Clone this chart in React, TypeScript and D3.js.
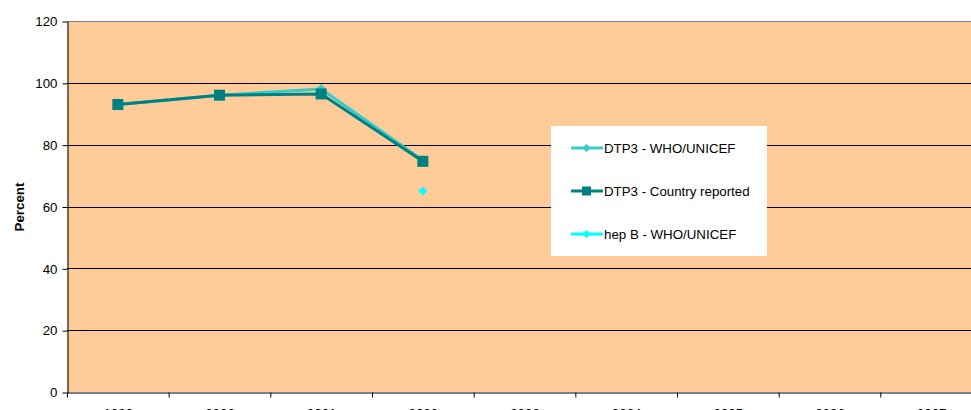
import React, { useRef, useEffect } from "react";
import * as d3 from "d3";

const years = ["1999", "2000", "2001", "2002", "2003", "2004", "2005", "2006", "2007"];
const dtp3Who = [93, 96, 98, 75, null, null, null, null, null];
const dtp3Country = [93, 96, 96.4, 74.6, null, null, null, null, null];
const hepBWho = [null, null, null, 65, null, null, null, null, null];
const yTicks = [0, 20, 40, 60, 80, 100, 120];

const seriesNames = ["DTP3 - WHO/UNICEF", "DTP3 - Country reported", "hep B - WHO/UNICEF"];

// square turned on its corner, like the spreadsheet marker
const diamondPath = (r: number) => `M0,${-r}L${r},0L0,${r}L${-r},0Z`;

const App = () => {
  const svgRef = useRef<SVGSVGElement>(null);

  useEffect(() => {
    const svg = d3.select(svgRef.current);
    svg.selectAll("*").remove();

    const width = 971;
    const height = 410;
    const left = 67;
    const top = 21;
    const bottom = 392;
    const right = 982; // the plot runs past the window edge

    const font = "Liberation Sans, Arial, sans-serif";
    const fs = 13.3;

    const x = d3.scaleBand().domain(years).range([left, right]);
    const y = d3.scaleLinear().domain([0, 120]).range([bottom, top]);

    svg.append("rect").attr("width", width).attr("height", height).attr("fill", "#fff");

    // plot area
    svg
      .append("rect")
      .attr("x", left)
      .attr("y", top)
      .attr("width", right - left)
      .attr("height", bottom - top)
      .attr("fill", "#FFCC99");

    // grid lines
    svg
      .append("g")
      .selectAll("line")
      .data(yTicks.filter((d) => d > 0 && d < 120))
      .enter()
      .append("line")
      .attr("x1", left)
      .attr("x2", right)
      .attr("y1", (d) => Math.round(y(d)) + 0.5)
      .attr("y2", (d) => Math.round(y(d)) + 0.5)
      .attr("stroke", "#000")
      .attr("stroke-width", 1);

    // top border
    svg
      .append("line")
      .attr("x1", left)
      .attr("x2", right)
      .attr("y1", top + 0.5)
      .attr("y2", top + 0.5)
      .attr("stroke", "#808080");

    // y axis
    const yAxis = svg
      .append("g")
      .attr("transform", `translate(${left + 0.5},0.5)`)
      .call(d3.axisLeft(y).tickValues(yTicks).tickSize(5).tickSizeOuter(0).tickPadding(5));
    yAxis.select(".domain").attr("stroke", "#000");
    yAxis.selectAll("line").attr("stroke", "#000");
    yAxis.selectAll("text").attr("font-family", font).attr("font-size", fs).attr("fill", "#000");

    // x axis
    const xAxis = svg
      .append("g")
      .attr("transform", `translate(0.5,${bottom + 0.5})`)
      .call(d3.axisBottom(x).tickSize(0).tickPadding(16));
    xAxis.select(".domain").attr("stroke", "#000");
    xAxis.selectAll("text").attr("font-family", font).attr("font-size", fs).attr("fill", "#000");
    // ticks between categories
    xAxis
      .selectAll("line.cat")
      .data(years.concat(["end"]))
      .enter()
      .append("line")
      .attr("class", "cat")
      .attr("x1", (_, i) => left + i * x.bandwidth())
      .attr("x2", (_, i) => left + i * x.bandwidth())
      .attr("y1", 0)
      .attr("y2", 5)
      .attr("stroke", "#000");

    // y axis title
    svg
      .append("text")
      .attr("transform", `translate(24,207) rotate(-90)`)
      .attr("text-anchor", "middle")
      .attr("font-family", font)
      .attr("font-size", fs)
      .attr("font-weight", "bold")
      .text("Percent");

    const cx = (i: number) => (x(years[i]) as number) + x.bandwidth() / 2;

    const line = d3
      .line<number | null>()
      .defined((d) => d !== null)
      .x((_, i) => cx(i))
      .y((d) => y(d as number));

    // DTP3 WHO/UNICEF
    svg
      .append("path")
      .attr("d", line(dtp3Who))
      .attr("fill", "none")
      .attr("stroke", "#33CCCC")
      .attr("stroke-width", 3);
    svg
      .append("g")
      .selectAll("path")
      .data(dtp3Who.map((d, i) => ({ d, i })).filter((p) => p.d !== null))
      .enter()
      .append("path")
      .attr("d", diamondPath(5))
      .attr("transform", (p) => `translate(${cx(p.i)},${y(p.d as number)})`)
      .attr("fill", "#33CCCC");

    // DTP3 Country reported
    svg
      .append("path")
      .attr("d", line(dtp3Country))
      .attr("fill", "none")
      .attr("stroke", "#008080")
      .attr("stroke-width", 3);
    svg
      .append("g")
      .selectAll("rect")
      .data(dtp3Country.map((d, i) => ({ d, i })).filter((p) => p.d !== null))
      .enter()
      .append("rect")
      .attr("x", (p) => cx(p.i) - 5.5)
      .attr("y", (p) => y(p.d as number) - 5.5)
      .attr("width", 11)
      .attr("height", 11)
      .attr("fill", "#008080");

    // hep B
    svg
      .append("g")
      .selectAll("path")
      .data(hepBWho.map((d, i) => ({ d, i })).filter((p) => p.d !== null))
      .enter()
      .append("path")
      .attr("d", diamondPath(4.5))
      .attr("transform", (p) => `translate(${cx(p.i)},${y(p.d as number)})`)
      .attr("fill", "#00FFFF");

    // legend
    const lg = svg.append("g").attr("transform", "translate(551,126)");
    lg.append("rect").attr("width", 216).attr("height", 130).attr("fill", "#fff");
    const colors = ["#33CCCC", "#008080", "#00FFFF"];
    seriesNames.forEach((name, i) => {
      const ly = 22 + i * 43;
      const row = lg.append("g").attr("transform", `translate(0,${ly})`);
      row
        .append("line")
        .attr("x1", 20)
        .attr("x2", 52)
        .attr("stroke", colors[i])
        .attr("stroke-width", 3);
      if (i === 1) {
        row.append("rect").attr("x", 31).attr("y", -4.5).attr("width", 9).attr("height", 9).attr("fill", colors[i]);
      } else {
        row
          .append("path")
          .attr("d", diamondPath(4))
          .attr("transform", "translate(35.5,0)")
          .attr("fill", colors[i]);
      }
      row
        .append("text")
        .attr("x", 53)
        .attr("y", 5)
        .attr("font-family", font)
        .attr("font-size", fs)
        .text(name);
    });
  }, []);

  return (
    <svg
      ref={svgRef}
      width={971}
      height={410}
      style={{ position: "absolute", left: 0, top: 0, overflow: "hidden" }}
    ></svg>
  );
};

export default App;
